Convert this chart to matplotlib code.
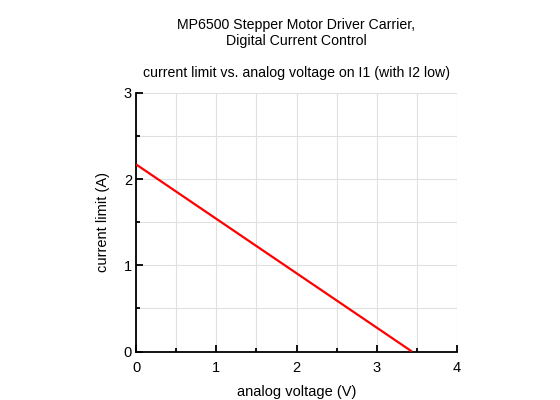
import matplotlib
matplotlib.use('Agg')
import matplotlib.pyplot as plt
from matplotlib.ticker import MultipleLocator

plt.rcParams['font.family'] = ['Liberation Sans', 'DejaVu Sans']

# analog voltage on I1 (V) and resulting current limit (A)
voltage = [0.0, 3.44]
current = [2.17, 0.0]

x_ticks = [0, 1, 2, 3, 4]
y_ticks = [0, 1, 2, 3]

fig = plt.figure(figsize=(5.6, 4), dpi=100)
ax_rect = [0.243, 0.121, 0.573, 0.647]
ax = fig.add_axes(ax_rect)

ax.plot(voltage, current, color='#ff0000', linewidth=1.6, solid_capstyle='butt', zorder=3)

ax.set_xlim(0, 4)
ax.set_ylim(0, 3)
ax.set_xticks(x_ticks)
ax.set_yticks(y_ticks)
ax.xaxis.set_minor_locator(MultipleLocator(0.5))
ax.yaxis.set_minor_locator(MultipleLocator(0.5))
ax.grid(True, which='both', color='#e0e0e0', linewidth=0.8, zorder=0)
ax.set_axisbelow(True)

for side in ['top', 'right']:
    ax.spines[side].set_visible(False)
for side in ['left', 'bottom']:
    ax.spines[side].set_linewidth(1.3)

ax.tick_params(which='major', direction='in', length=5, width=1.3, labelsize=10.5)
ax.tick_params(axis='x', which='major', pad=7)
ax.tick_params(axis='y', which='major', pad=3)
ax.tick_params(which='minor', direction='in', length=3, width=1.3)

ax.set_xlabel('analog voltage (V)', fontsize=10.5, labelpad=7)
ax.set_ylabel('current limit (A)', fontsize=10.5, labelpad=10)

# titles are centred over the plot area, not the figure
cx = ax_rect[0] + ax_rect[2] / 2
fig.text(cx, 0.955, 'MP6500 Stepper Motor Driver Carrier,\nDigital Current Control',
         ha='center', va='top', fontsize=10.2, linespacing=1.15)
fig.text(cx, 0.818, 'current limit vs. analog voltage on I1 (with I2 low)',
         ha='center', va='center', fontsize=10.2)

fig.savefig('out.png', dpi=100)
